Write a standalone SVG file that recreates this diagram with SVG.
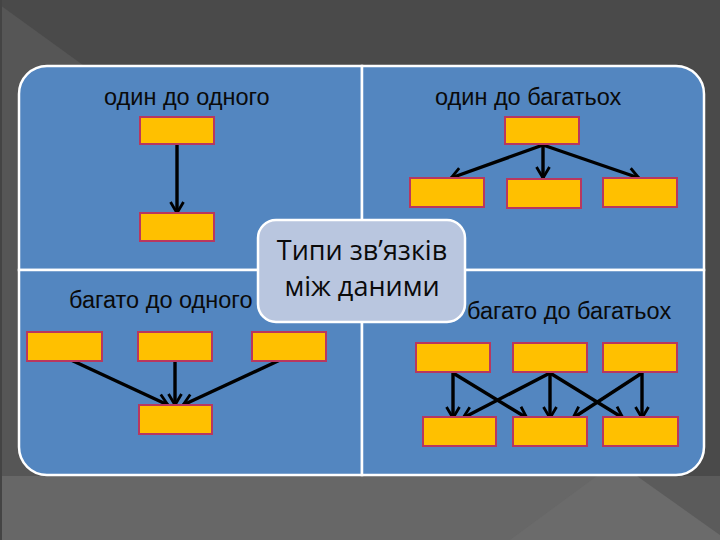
<svg xmlns="http://www.w3.org/2000/svg" width="720" height="540" viewBox="0 0 720 540">
<style>
.q{fill:#5386c0;stroke:#ffffff;stroke-width:2.5}
.b{fill:#ffc000;stroke:#b8375f;stroke-width:2}
.lbl{font-family:"Liberation Sans",Arial,sans-serif;font-size:23.5px;fill:#0a0a0a}
.ct{font-family:"Open Sans","Noto Sans",sans-serif;font-size:27px;fill:#0a0a0a;text-anchor:middle}
.a{stroke:#000;stroke-width:3.4;fill:none;marker-end:url(#ah)}
</style>
<defs>
<marker id="ah" markerUnits="userSpaceOnUse" markerWidth="18" markerHeight="18" refX="14" refY="9" orient="auto">
<path d="M3,2.5 L14,9 L3,15.5" fill="none" stroke="#000" stroke-width="2.8"/>
</marker>
</defs>
<g id="background">
<rect x="0" y="0" width="720" height="540" fill="#4a4a4a"/>
<polygon points="0,5 560,410 720,540 0,540" fill="#565656"/>
<polygon points="0,476 720,476 720,540 0,540" fill="#676767"/>
<polygon points="597,476 637,476 720,535 720,540 510,540" fill="#6b6b6b"/>
<polygon points="637,476 720,476 720,535" fill="#5b5b5b"/>
<rect x="0" y="0" width="2" height="540" fill="#444"/>
</g>
<g id="panel">
<path class="q" d="M19,270 V94 A28,28 0 0 1 47,66 H362 V270 Z"/>
<path class="q" d="M362,66 H676 A28,28 0 0 1 704,94 V270 H362 Z"/>
<path class="q" d="M19,270 H362 V475 H47 A28,28 0 0 1 19,447 Z"/>
<path class="q" d="M362,270 H704 V447 A28,28 0 0 1 676,475 H362 Z"/>
</g>
<g id="labels">
<text class="lbl" x="104" y="105">один до одного</text>
<text class="lbl" x="435" y="105">один до багатьох</text>
<text class="lbl" x="69" y="308">багато до одного</text>
<text class="lbl" x="467" y="319">багато до багатьох</text>
</g>
<g id="center">
<rect x="258" y="220" width="207" height="102" rx="18" ry="18" fill="#b9c6df" stroke="#ffffff" stroke-width="2.5"/>
<text class="ct" x="362" y="260">Типи зв’язків</text>
<text class="ct" x="362" y="296">між даними</text>
</g>
<g id="connectors">
<line class="a" x1="177" y1="145" x2="177" y2="213"/>
<line class="a" x1="543" y1="145" x2="451" y2="178"/>
<line class="a" x1="543" y1="145" x2="543" y2="178"/>
<line class="a" x1="543" y1="145" x2="639" y2="178"/>
<line class="a" x1="71" y1="360" x2="168" y2="405"/>
<line class="a" x1="175" y1="361" x2="175" y2="405"/>
<line class="a" x1="280" y1="360" x2="183" y2="405"/>
<line class="a" x1="453" y1="373" x2="453" y2="418"/>
<line class="a" x1="453" y1="373" x2="527" y2="418"/>
<line class="a" x1="550" y1="373" x2="463" y2="418"/>
<line class="a" x1="550" y1="373" x2="550" y2="418"/>
<line class="a" x1="550" y1="373" x2="623" y2="418"/>
<line class="a" x1="642" y1="373" x2="573" y2="418"/>
<line class="a" x1="642" y1="373" x2="642" y2="418"/>
</g>
<g id="q1-nodes">
<rect id="n1a" class="b" x="140" y="117" width="74" height="27"/>
<rect id="n1b" class="b" x="140" y="213" width="74" height="28"/>
</g>
<g id="q2-nodes">
<rect id="n2a" class="b" x="505" y="117" width="74" height="27"/>
<rect id="n2b" class="b" x="410" y="178" width="74" height="29"/>
<rect id="n2c" class="b" x="507" y="179" width="74" height="29"/>
<rect id="n2d" class="b" x="603" y="178" width="74" height="29"/>
</g>
<g id="q3-nodes">
<rect id="n3a" class="b" x="27" y="332" width="75" height="29"/>
<rect id="n3b" class="b" x="138" y="332" width="74" height="29"/>
<rect id="n3c" class="b" x="252" y="332" width="74" height="29"/>
<rect id="n3d" class="b" x="139" y="405" width="73" height="29"/>
</g>
<g id="q4-nodes">
<rect id="n4a" class="b" x="416" y="343" width="74" height="29"/>
<rect id="n4b" class="b" x="513" y="343" width="74" height="29"/>
<rect id="n4c" class="b" x="603" y="343" width="74" height="29"/>
<rect id="n4d" class="b" x="423" y="417" width="73" height="29"/>
<rect id="n4e" class="b" x="513" y="417" width="74" height="29"/>
<rect id="n4f" class="b" x="603" y="417" width="75" height="29"/>
</g>
</svg>
